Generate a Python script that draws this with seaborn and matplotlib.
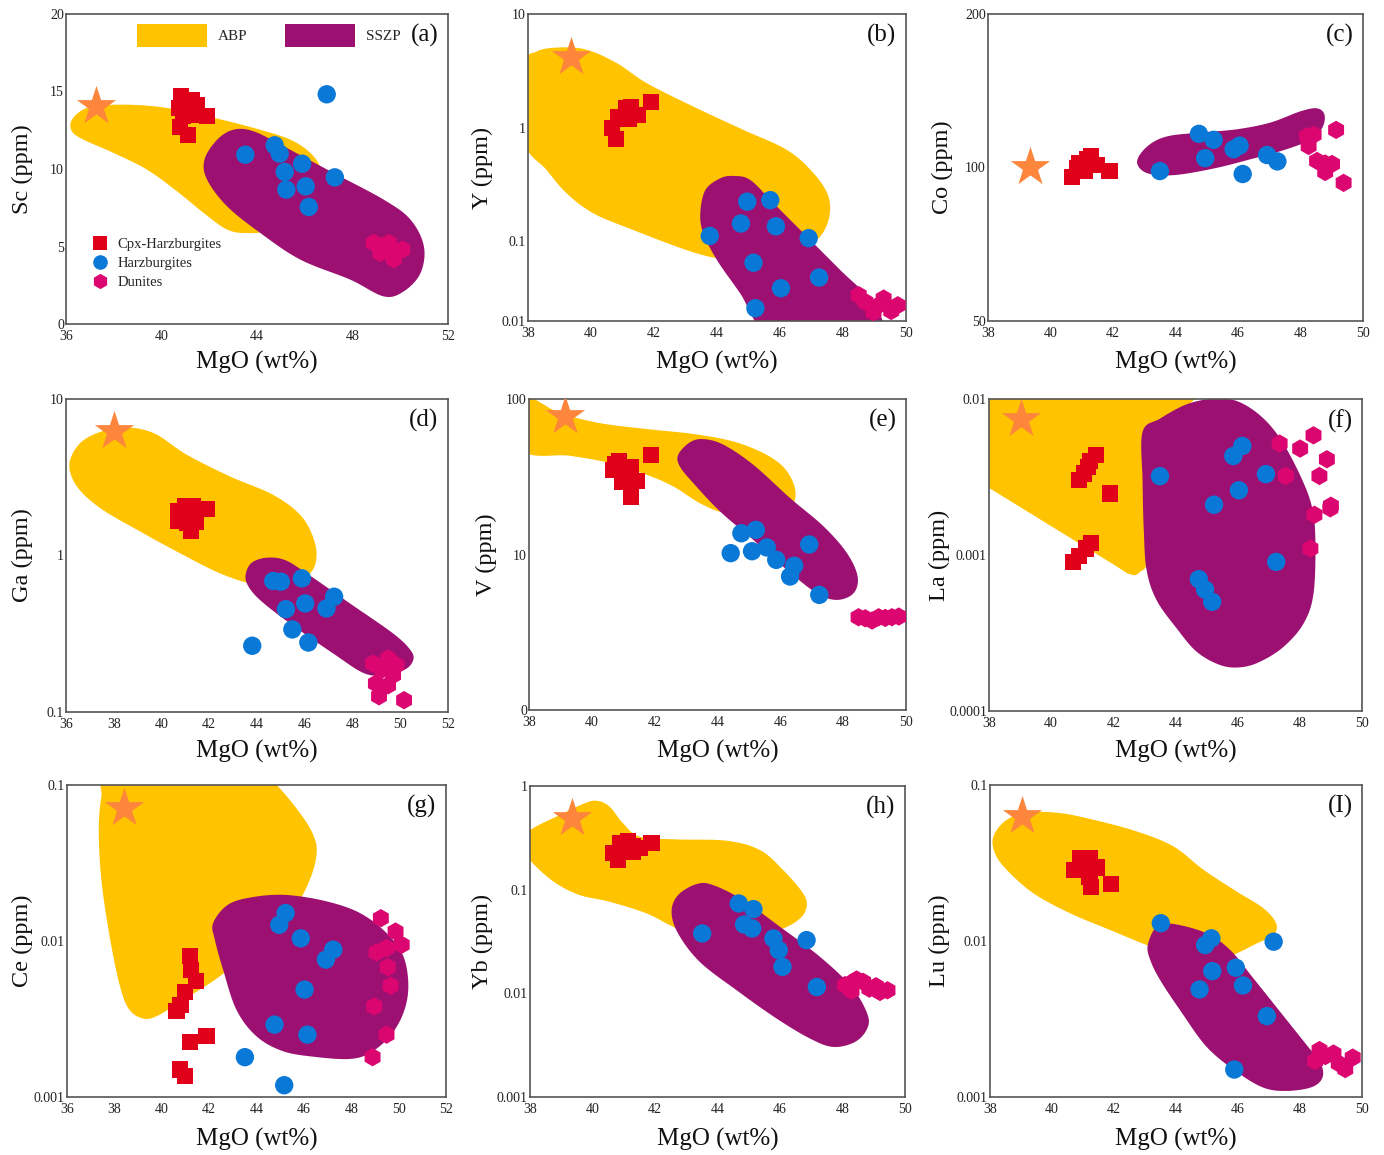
import numpy as np
import pandas as pd
import matplotlib
matplotlib.use("Agg")
import matplotlib.pyplot as plt
import seaborn as sns
from matplotlib.lines import Line2D
from matplotlib.patches import Patch

# ---------------------------------------------------------------- data
# (a) Sc
SC_CPX_MGO = [40.83, 41.28, 41.49, 40.75, 41.14, 40.90, 41.28, 40.79, 41.10, 41.90]
SC_CPX = [14.69, 14.47, 14.15, 13.94, 13.83, 13.40, 13.50, 12.71, 12.20, 13.40]
SC_HZ_MGO = [43.51, 44.74, 44.95, 45.16, 45.89, 45.23, 46.04, 46.17, 46.92, 47.26]
SC_HZ = [10.92, 11.53, 10.99, 9.81, 10.34, 8.67, 8.88, 7.55, 14.82, 9.46]
SC_DUN_MGO = [48.89, 49.17, 49.52, 49.73, 50.08, 49.87, 49.24]
SC_DUN = [5.23, 4.58, 5.23, 4.19, 4.80, 4.69, 5.01]
SC_STAR = [37.26, 14.04]
SC_ABP_MGO = [36.25, 36.88, 38.14, 39.95, 41.91, 43.86, 45.40, 46.31, 46.68, 46.38, 45.54, 44.42, 43.58, 42.75, 41.77, 40.65, 39.39, 38.00, 36.74, 36.25]
SC_ABP = [13.18, 13.94, 14.15, 14.00, 13.40, 12.65, 11.89, 10.92, 9.85, 8.88, 7.59, 6.09, 5.87, 6.09, 7.16, 8.56, 9.96, 11.03, 11.89, 12.43]
SC_SSZP_MGO = [41.80, 42.33, 43.03, 43.86, 45.12, 47.21, 49.31, 50.43, 50.99, 50.85, 50.15, 49.31, 47.91, 45.82, 44.14, 42.75, 41.91]
SC_SSZP = [10.60, 11.89, 12.54, 12.43, 11.46, 9.74, 8.02, 6.73, 5.01, 3.29, 2.11, 1.78, 2.86, 4.15, 5.87, 7.59, 9.31]

# (b) Y
Y_CPX_MGO = [40.66, 40.80, 40.87, 41.10, 41.26, 41.19, 41.49, 41.90]
Y_CPX = [0.99, 0.79, 1.24, 1.49, 1.52, 1.19, 1.30, 1.68]
Y_HZ_MGO = [43.77, 44.76, 44.96, 45.69, 45.87, 46.91, 45.16, 46.03, 47.24, 45.22]
Y_HZ = [0.112, 0.144, 0.224, 0.231, 0.136, 0.107, 0.065, 0.0388, 0.0482, 0.0259]
Y_DUN_MGO = [48.50, 48.71, 48.97, 49.29, 49.53, 49.74, 49.13]
Y_DUN = [0.0337, 0.0294, 0.0240, 0.0315, 0.0245, 0.0275, 0.0275]
Y_STAR = [39.37, 4.15]
Y_ABP_MGO = [37.85, 38.28, 39.02, 39.86, 40.82, 41.77, 43.25, 44.84, 46.22, 47.07, 47.54, 47.54, 47.17, 46.43, 45.37, 44.10, 43.04, 41.35, 40.08, 39.23, 38.59, 37.85]
Y_ABP_LOG = [0.539, 0.671, 0.706, 0.686, 0.568, 0.392, 0.186, -0.019, -0.195, -0.401, -0.606, -0.812, -0.988, -1.106, -1.164, -1.150, -1.076, -0.900, -0.753, -0.577, -0.371, -0.107]
Y_SSZP_MGO = [43.47, 43.63, 44.10, 44.53, 45.06, 45.80, 46.86, 47.92, 48.87, 49.19, 47.49, 45.58, 44.74, 44.00, 43.57]
Y_SSZP_LOG = [-0.753, -0.548, -0.445, -0.424, -0.460, -0.665, -0.959, -1.253, -1.517, -1.781, -1.957, -1.811, -1.458, -1.164, -0.930]

# (c) Co
CO_CPX_MGO = [40.69, 40.85, 40.93, 41.17, 41.30, 41.49, 41.89, 41.10]
CO_CPX = [95.9, 99.6, 101.9, 103.7, 105.4, 101.2, 98.3, 98.6]
CO_HZ_MGO = [43.50, 44.75, 45.22, 44.95, 45.86, 46.05, 46.15, 46.93, 47.26]
CO_HZ = [98.4, 116.4, 113.3, 104.3, 108.6, 110.4, 97.1, 105.8, 102.8]
CO_DUN_MGO = [48.21, 48.42, 48.26, 49.14, 48.53, 48.79, 49.01, 48.79, 49.38]
CO_DUN = [115.1, 115.9, 110.2, 118.5, 103.0, 101.8, 101.6, 98.0, 93.3]
CO_STAR = [39.35, 100.4]
CO_SSZP_MGO = [42.77, 43.09, 43.73, 44.90, 45.97, 47.03, 47.99, 48.53, 48.77, 48.69, 48.31, 47.46, 46.39, 45.22, 43.94, 43.09]
CO_SSZP_LOG = [2.011, 2.041, 2.061, 2.069, 2.075, 2.088, 2.110, 2.116, 2.103, 2.077, 2.054, 2.034, 2.016, 1.998, 1.985, 1.989]

# (d) Ga
GA_CPX_MGO = [40.71, 40.99, 41.31, 40.71, 41.06, 41.45, 41.23, 41.90, 41.06]
GA_CPX = [1.91, 2.07, 2.07, 1.67, 1.61, 1.65, 1.44, 1.98, 1.86]
GA_HZ_MGO = [44.68, 45.00, 45.88, 47.23, 46.02, 45.21, 46.91, 45.48, 46.15, 43.80]
GA_HZ = [0.687, 0.680, 0.714, 0.545, 0.494, 0.454, 0.459, 0.337, 0.278, 0.265]
GA_DUN_MGO = [48.86, 49.49, 49.84, 49.25, 49.70, 48.98, 49.49, 49.11, 50.16]
GA_DUN = [0.204, 0.220, 0.199, 0.187, 0.172, 0.152, 0.148, 0.126, 0.119]
GA_STAR = [38.03, 6.2]
GA_ABP_MGO = [36.14, 36.53, 37.30, 38.41, 39.67, 41.06, 42.87, 44.68, 45.87, 46.43, 46.43, 45.94, 44.96, 43.85, 42.45, 40.78, 39.11, 37.44, 36.46]
GA_ABP_LOG = [0.580, 0.708, 0.782, 0.819, 0.782, 0.644, 0.505, 0.387, 0.249, 0.078, -0.061, -0.146, -0.189, -0.183, -0.114, 0.014, 0.153, 0.302, 0.441]
GA_SSZP_MGO = [43.53, 43.78, 44.40, 45.17, 46.08, 47.89, 49.70, 50.43, 50.54, 50.19, 49.28, 48.45, 47.19, 45.38, 44.13, 43.61]
GA_SSZP_LOG = [-0.118, -0.046, -0.014, -0.029, -0.114, -0.306, -0.498, -0.605, -0.669, -0.729, -0.765, -0.750, -0.626, -0.434, -0.285, -0.189]

# (e) V
V_CPX_MGO = [40.73, 40.87, 40.68, 41.00, 41.23, 41.10, 40.97, 41.44, 41.26, 41.88]
V_CPX = [38.4, 39.7, 34.8, 35.4, 36.5, 33.0, 29.5, 29.8, 23.6, 43.9]
V_HZ_MGO = [44.76, 45.22, 44.42, 45.10, 45.57, 45.87, 46.44, 46.31, 46.92, 47.24]
V_HZ = [13.7, 14.4, 10.2, 10.5, 11.1, 9.24, 8.46, 7.22, 11.6, 5.50]
V_DUN_MGO = [48.49, 48.70, 48.92, 49.13, 49.34, 49.55, 49.77]
V_DUN = [3.95, 3.89, 3.76, 3.95, 3.91, 3.95, 3.99]
V_STAR = [39.16, 77.3]
V_ABP_MGO = [37.81, 38.98, 40.25, 41.74, 43.23, 44.50, 45.46, 46.10, 46.45, 46.42, 45.99, 45.14, 44.19, 43.44, 42.59, 41.74, 40.57, 39.30, 37.81]
V_ABP_LOG = [2.006, 1.910, 1.845, 1.807, 1.775, 1.727, 1.652, 1.562, 1.438, 1.330, 1.283, 1.266, 1.270, 1.330, 1.438, 1.513, 1.588, 1.635, 1.670]
V_SSZP_MGO = [42.75, 43.12, 43.55, 44.19, 45.14, 46.31, 47.38, 48.12, 48.46, 48.33, 47.80, 47.16, 46.21, 45.14, 44.08, 43.23, 42.80]
V_SSZP_LOG = [1.642, 1.721, 1.742, 1.706, 1.577, 1.363, 1.180, 1.009, 0.858, 0.751, 0.708, 0.751, 0.901, 1.094, 1.277, 1.459, 1.567]

# (f) La
LA_CPX_MGO = [40.90, 41.05, 41.19, 41.24, 41.43, 41.89, 40.71, 40.90, 41.12, 41.27]
LA_CPX = [0.00301, 0.00333, 0.00367, 0.00400, 0.00440, 0.00248, 0.000904, 0.000988, 0.00110, 0.00120]
LA_HZ_MGO = [43.50, 46.15, 45.86, 46.91, 46.04, 45.24, 47.24, 44.75, 44.95, 45.18]
LA_HZ = [0.00320, 0.00500, 0.00431, 0.00330, 0.00260, 0.00210, 0.000903, 0.000700, 0.000601, 0.000501]
LA_DUN_MGO = [47.35, 48.01, 48.44, 47.55, 48.87, 48.63, 49.00, 48.98, 48.47, 48.34]
LA_DUN = [0.00518, 0.00481, 0.00585, 0.00321, 0.00411, 0.00321, 0.00207, 0.00199, 0.00181, 0.00110]
LA_STAR = [39.04, 0.00748]
LA_ABP_MGO = [37.70, 41.00, 44.70, 44.40, 43.60, 43.15, 42.86, 42.53, 41.78, 38.00, 37.81]
LA_ABP_LOG = [-1.95, -1.95, -1.95, -2.05, -2.40, -3.00, -3.108, -3.123, -3.033, -2.570, -2.546]
LA_SSZP_MGO = [42.94, 43.50, 44.36, 45.22, 45.97, 46.72, 47.37, 48.01, 48.39, 48.50, 48.44, 48.12, 47.48, 46.72, 46.08, 45.43, 44.68, 44.04, 43.39, 43.07, 42.98, 42.94]
LA_SSZP_LOG = [-2.211, -2.126, -2.034, -1.998, -2.013, -2.105, -2.254, -2.489, -2.692, -2.905, -3.247, -3.439, -3.588, -3.684, -3.720, -3.705, -3.620, -3.471, -3.289, -3.097, -2.841, -2.521]

# (g) Ce
CE_CPX_MGO = [41.21, 41.25, 41.44, 40.97, 40.79, 40.62, 41.18, 41.89, 40.76, 40.97]
CE_CPX = [0.00798, 0.00655, 0.00551, 0.00469, 0.00391, 0.00354, 0.00224, 0.00247, 0.00150, 0.00136]
CE_HZ_MGO = [45.23, 44.96, 45.87, 47.24, 46.93, 46.03, 44.76, 46.15, 43.51, 45.17]
CE_HZ = [0.0151, 0.0127, 0.0104, 0.0088, 0.0076, 0.00488, 0.00291, 0.00251, 0.00180, 0.00119]
CE_DUN_MGO = [49.25, 49.87, 50.13, 49.07, 49.49, 49.54, 49.66, 48.97, 49.49, 48.90]
CE_DUN = [0.0140, 0.0115, 0.00946, 0.00845, 0.00901, 0.00681, 0.00517, 0.00381, 0.00251, 0.00180]
CE_STAR = [38.39, 0.0713]
CE_ABP_MGO = [37.70, 41.00, 44.00, 44.85, 45.83, 46.39, 46.54, 46.25, 45.55, 44.14, 42.45, 41.04, 39.77, 39.14, 38.58, 38.20, 37.80, 37.45, 37.34, 37.45]
CE_ABP_LOG = [-0.90, -0.90, -0.90, -1.00, -1.179, -1.318, -1.436, -1.607, -1.799, -2.013, -2.226, -2.365, -2.483, -2.494, -2.429, -2.269, -1.970, -1.607, -1.286, -1.073]
CE_SSZP_MGO = [42.17, 42.80, 43.86, 45.27, 46.96, 48.37, 49.49, 50.20, 50.41, 50.20, 49.63, 48.79, 47.94, 46.54, 45.13, 44.00, 43.15, 42.59, 42.24]
CE_SSZP_LOG = [-1.885, -1.767, -1.718, -1.705, -1.746, -1.821, -1.949, -2.098, -2.291, -2.462, -2.611, -2.718, -2.756, -2.744, -2.707, -2.611, -2.440, -2.184, -1.991]

# (h) Yb
YB_CPX_MGO = [40.66, 40.82, 40.87, 41.14, 41.28, 41.30, 41.51, 41.89, 41.03]
YB_CPX = [0.224, 0.193, 0.284, 0.297, 0.263, 0.232, 0.250, 0.284, 0.241]
YB_HZ_MGO = [44.68, 45.15, 44.85, 45.11, 43.51, 45.79, 45.96, 46.08, 46.85, 47.18]
YB_HZ = [0.0736, 0.0649, 0.0461, 0.0422, 0.0378, 0.0338, 0.0261, 0.0180, 0.0326, 0.0115]
YB_DUN_MGO = [48.24, 48.45, 48.66, 48.29, 48.86, 49.07, 49.20, 49.44, 48.08]
YB_DUN = [0.0124, 0.0136, 0.0129, 0.0106, 0.0111, 0.0117, 0.0103, 0.0107, 0.0120]
YB_STAR = [39.35, 0.487]
YB_ABP_MGO = [37.88, 38.95, 39.80, 40.18, 40.55, 40.98, 41.51, 42.69, 44.29, 45.36, 46.10, 46.74, 46.85, 46.64, 46.10, 45.36, 44.29, 43.22, 42.58, 41.73, 40.55, 39.59, 38.84, 38.20, 37.88]
YB_ABP_LOG = [-0.457, -0.280, -0.161, -0.145, -0.200, -0.360, -0.489, -0.515, -0.528, -0.618, -0.811, -1.036, -1.165, -1.278, -1.374, -1.423, -1.439, -1.423, -1.358, -1.229, -1.117, -1.052, -0.940, -0.779, -0.650]
YB_SSZP_MGO = [42.53, 42.74, 43.33, 43.86, 44.82, 46.00, 47.28, 48.29, 48.79, 48.79, 48.40, 47.70, 46.96, 45.89, 44.61, 43.43, 42.74]
YB_SSZP_LOG = [-1.213, -1.052, -0.946, -0.956, -1.101, -1.358, -1.648, -1.938, -2.195, -2.340, -2.469, -2.517, -2.436, -2.243, -1.970, -1.696, -1.423]

# (I) Lu
LU_CPX_MGO = [40.71, 40.91, 41.21, 41.44, 41.21, 41.26, 41.90, 41.01]
LU_CPX = [0.0286, 0.0340, 0.0340, 0.0296, 0.0256, 0.0221, 0.0232, 0.0293]
LU_HZ_MGO = [43.51, 44.94, 45.14, 47.15, 45.17, 45.93, 46.16, 44.76, 46.93, 45.88]
LU_HZ = [0.0130, 0.00942, 0.0104, 0.0099, 0.00641, 0.00674, 0.00519, 0.00489, 0.0033, 0.0015]
LU_DUN_MGO = [48.49, 48.63, 48.82, 49.08, 49.25, 49.46, 49.70]
LU_DUN = [0.00170, 0.00200, 0.00183, 0.00190, 0.00164, 0.00151, 0.00179]
LU_STAR = [39.02, 0.0629]
LU_ABP_MGO = [38.11, 38.54, 39.29, 40.26, 41.34, 42.74, 43.92, 44.89, 45.96, 46.82, 47.23, 47.15, 46.61, 46.07, 45.64, 44.89, 43.81, 43.06, 41.87, 40.58, 39.40, 38.54, 38.16]
LU_ABP_LOG = [-1.330, -1.223, -1.176, -1.180, -1.223, -1.298, -1.394, -1.544, -1.683, -1.790, -1.887, -1.961, -2.015, -2.069, -2.101, -2.101, -2.069, -2.026, -1.929, -1.822, -1.694, -1.544, -1.437]
LU_SSZP_MGO = [43.09, 43.38, 43.92, 44.99, 45.75, 46.50, 47.36, 48.22, 48.65, 48.73, 48.39, 47.58, 46.82, 45.96, 44.99, 44.13, 43.49, 43.17]
LU_SSZP_LOG = [-2.026, -1.908, -1.891, -1.951, -2.058, -2.240, -2.454, -2.668, -2.775, -2.872, -2.936, -2.961, -2.940, -2.839, -2.679, -2.443, -2.251, -2.122]

ROCKS = ["Cpx-Harzburgites", "Harzburgites", "Dunites"]
FIELDS = ["ABP", "SSZP"]

# ---------------------------------------------------------------- style
YELLOW = "#FFC300"
PURPLE = "#9C1072"
RED = "#E1001A"
BLUE = "#0A78D6"
PINK = "#DC0670"
STAR = "#FD853C"
AXC = "#555555"

PALETTE = {ROCKS[0]: RED, ROCKS[1]: BLUE, ROCKS[2]: PINK}
MARKERS = {ROCKS[0]: "s", ROCKS[1]: "o", ROCKS[2]: "h"}
SIZES = {ROCKS[0]: 135, ROCKS[1]: 175, ROCKS[2]: 175}

sns.set_theme(style="white")
plt.rcParams["font.family"] = ["Liberation Serif", "DejaVu Serif"]

W, H = 1384, 1155
fig = plt.figure(figsize=(W / 100, H / 100), dpi=100)


def smooth_closed(xs, ys, n=30):
    P = np.column_stack([xs, ys]).astype(float)
    N = len(P)
    t = np.linspace(0, 1, n, endpoint=False)[:, None]
    out = []
    for i in range(N):
        p0, p1, p2, p3 = P[(i - 1) % N], P[i], P[(i + 1) % N], P[(i + 2) % N]
        pts = 0.5 * (2 * p1 + (-p0 + p2) * t + (2 * p0 - 5 * p1 + 4 * p2 - p3) * t ** 2
                     + (-p0 + 3 * p1 - 3 * p2 + p3) * t ** 3)
        out.append(pts)
    out = np.vstack(out)
    return out[:, 0], out[:, 1]


X36 = [36, 40, 44, 48, 52]
X36b = list(range(36, 53, 2))
X38 = list(range(38, 51, 2))

panels = [
    dict(box=(66, 14, 448, 324), ylab="Sc (ppm)", tag="(a)", log=False,
         xlim=(36, 52), xt=X36, ylim=(0, 20), yt=[0, 5, 10, 15, 20], ytl=["0", "5", "10", "15", "20"],
         cpx=(SC_CPX_MGO, SC_CPX), hz=(SC_HZ_MGO, SC_HZ), dun=(SC_DUN_MGO, SC_DUN), star=SC_STAR,
         abp=(SC_ABP_MGO, SC_ABP), sszp=(SC_SSZP_MGO, SC_SSZP), ylc=-0.086, xlc=-0.088),
    dict(box=(528, 14, 906, 321), ylab="Y (ppm)", tag="(b)", log=True,
         xlim=(38, 50), xt=X38, ylim=(0.02, 10), yt=[0.02, 0.1, 1, 10], ytl=["0.01", "0.1", "1", "10"],
         cpx=(Y_CPX_MGO, Y_CPX), hz=(Y_HZ_MGO, Y_HZ), dun=(Y_DUN_MGO, Y_DUN), star=Y_STAR,
         abp=(Y_ABP_MGO, Y_ABP_LOG), sszp=(Y_SSZP_MGO, Y_SSZP_LOG), ylc=-0.093, xlc=-0.097),
    dict(box=(988, 14, 1363, 321), ylab="Co (ppm)", tag="(c)", log=True,
         xlim=(38, 50), xt=X38, ylim=(50, 200), yt=[50, 100, 200], ytl=["50", "100", "200"],
         cpx=(CO_CPX_MGO, CO_CPX), hz=(CO_HZ_MGO, CO_HZ), dun=(CO_DUN_MGO, CO_DUN), star=CO_STAR,
         abp=None, sszp=(CO_SSZP_MGO, CO_SSZP_LOG), ylc=-0.093, xlc=-0.097),
    dict(box=(66, 399, 448, 712), ylab="Ga (ppm)", tag="(d)", log=True,
         xlim=(36, 52), xt=X36b, ylim=(0.1, 10), yt=[0.1, 1, 10], ytl=["0.1", "1", "10"],
         cpx=(GA_CPX_MGO, GA_CPX), hz=(GA_HZ_MGO, GA_HZ), dun=(GA_DUN_MGO, GA_DUN), star=GA_STAR,
         abp=(GA_ABP_MGO, GA_ABP_LOG), sszp=(GA_SSZP_MGO, GA_SSZP_LOG), ylc=-0.086, xlc=-0.089),
    dict(box=(529, 399, 906, 710), ylab="V (ppm)", tag="(e)", log=True,
         xlim=(38, 50), xt=X38, ylim=(1, 100), yt=[1, 10, 100], ytl=["0", "10", "100"],
         cpx=(V_CPX_MGO, V_CPX), hz=(V_HZ_MGO, V_HZ), dun=(V_DUN_MGO, V_DUN), star=V_STAR,
         abp=(V_ABP_MGO, V_ABP_LOG), sszp=(V_SSZP_MGO, V_SSZP_LOG), ylc=-0.085, xlc=-0.095),
    dict(box=(989, 399, 1362, 711), ylab="La (ppm)", tag="(f)", log=True,
         xlim=(38, 50), xt=X38, ylim=(0.0001, 0.01), yt=[0.0001, 0.001, 0.01], ytl=["0.0001", "0.001", "0.01"],
         cpx=(LA_CPX_MGO, LA_CPX), hz=(LA_HZ_MGO, LA_HZ), dun=(LA_DUN_MGO, LA_DUN), star=LA_STAR,
         abp=(LA_ABP_MGO, LA_ABP_LOG), sszp=(LA_SSZP_MGO, LA_SSZP_LOG), ylc=-0.105, xlc=-0.093),
    dict(box=(67, 785, 446, 1097), ylab="Ce (ppm)", tag="(g)", log=True,
         xlim=(36, 52), xt=X36b, ylim=(0.001, 0.1), yt=[0.001, 0.01, 0.1], ytl=["0.001", "0.01", "0.1"],
         cpx=(CE_CPX_MGO, CE_CPX), hz=(CE_HZ_MGO, CE_HZ), dun=(CE_DUN_MGO, CE_DUN), star=CE_STAR,
         abp=(CE_ABP_MGO, CE_ABP_LOG), sszp=(CE_SSZP_MGO, CE_SSZP_LOG), ylc=-0.09, xlc=-0.098),
    dict(box=(530, 786, 905, 1097), ylab="Yb (ppm)", tag="(h)", log=True,
         xlim=(38, 50), xt=X38, ylim=(0.001, 1), yt=[0.001, 0.01, 0.1, 1], ytl=["0.001", "0.01", "0.1", "1"],
         cpx=(YB_CPX_MGO, YB_CPX), hz=(YB_HZ_MGO, YB_HZ), dun=(YB_DUN_MGO, YB_DUN), star=YB_STAR,
         abp=(YB_ABP_MGO, YB_ABP_LOG), sszp=(YB_SSZP_MGO, YB_SSZP_LOG), ylc=-0.099, xlc=-0.098),
    dict(box=(990, 785, 1362, 1097), ylab="Lu (ppm)", tag="(I)", log=True,
         xlim=(38, 50), xt=X38, ylim=(0.001, 0.1), yt=[0.001, 0.01, 0.1], ytl=["0.001", "0.01", "0.1"],
         cpx=(LU_CPX_MGO, LU_CPX), hz=(LU_HZ_MGO, LU_HZ), dun=(LU_DUN_MGO, LU_DUN), star=LU_STAR,
         abp=(LU_ABP_MGO, LU_ABP_LOG), sszp=(LU_SSZP_MGO, LU_SSZP_LOG), ylc=-0.108, xlc=-0.098),
]

axes = []
for p in panels:
    l, t, r, b = p["box"]
    ax = fig.add_axes([l / W, 1 - b / H, (r - l) / W, (b - t) / H])
    axes.append(ax)
    if p["log"]:
        ax.set_yscale("log")

    # compositional fields
    for key, col, z in (("abp", YELLOW, 0.5), ("sszp", PURPLE, 0.6)):
        fld = p[key]
        if fld is None:
            continue
        fx, fy = smooth_closed(fld[0], fld[1])
        if p["log"]:
            fy = 10 ** fy
        ax.fill(fx, fy, color=col, lw=0, zorder=z)

    # samples
    df = pd.concat([
        pd.DataFrame({"MgO": p["cpx"][0], "val": p["cpx"][1], "rock": ROCKS[0]}),
        pd.DataFrame({"MgO": p["hz"][0], "val": p["hz"][1], "rock": ROCKS[1]}),
        pd.DataFrame({"MgO": p["dun"][0], "val": p["dun"][1], "rock": ROCKS[2]}),
    ], ignore_index=True)
    sns.scatterplot(data=df, x="MgO", y="val", hue="rock", style="rock", size="rock",
                    palette=PALETTE, markers=MARKERS, sizes=SIZES, linewidth=0,
                    legend=False, ax=ax, zorder=3)
    star_df = pd.DataFrame({"MgO": [p["star"][0]], "val": [p["star"][1]]})
    sns.scatterplot(data=star_df, x="MgO", y="val", marker="*", s=880, color=STAR,
                    linewidth=0, legend=False, ax=ax, zorder=3)

    ax.set_xlim(*p["xlim"])
    ax.set_ylim(*p["ylim"])
    ax.set_xticks(p["xt"], [str(v) for v in p["xt"]])
    ax.set_yticks(p["yt"], p["ytl"])
    ax.minorticks_off()
    ax.tick_params(direction="in", length=3.5, width=1.0, color=AXC, labelsize=10,
                   labelcolor="#222222")
    ax.tick_params(axis="x", pad=4)
    ax.tick_params(axis="y", pad=1.5)
    for s in ax.spines.values():
        s.set_color(AXC)
        s.set_linewidth(1.2)
    ax.set_xlabel("MgO (wt%)", fontsize=18, color="#111111")
    ax.set_ylabel(p["ylab"], fontsize=17.5, color="#111111")
    ax.xaxis.set_label_coords(0.5, p["xlc"])
    ax.yaxis.set_label_coords(p["ylc"], 0.5)
    ax.text(0.975, 0.93, p["tag"], transform=ax.transAxes, ha="right", va="center",
            fontsize=18, color="#111111", zorder=5)

# legends in panel (a)
ax0 = axes[0]
field_handles = [Patch(facecolor=YELLOW, edgecolor="none"), Patch(facecolor=PURPLE, edgecolor="none")]
leg1 = ax0.legend(field_handles, FIELDS, ncol=2, loc="upper left", bbox_to_anchor=(0.186, 0.968),
                  frameon=False, fontsize=11, handlelength=4.6, handleheight=1.9,
                  handletextpad=0.72, columnspacing=2.4, borderpad=0, borderaxespad=0)
ax0.add_artist(leg1)
rock_handles = [Line2D([], [], ls="none", marker=MARKERS[r], color=PALETTE[r], markeredgewidth=0,
                       markersize=ms) for r, ms in zip(ROCKS, (9.5, 10.5, 11))]
ax0.legend(rock_handles, ROCKS, loc="upper left", bbox_to_anchor=(0.071, 0.277), frameon=False,
           fontsize=10.5, handlelength=1.0, handletextpad=0.65, labelspacing=0.38,
           borderpad=0, borderaxespad=0)

fig.savefig("out.png", dpi=100)
